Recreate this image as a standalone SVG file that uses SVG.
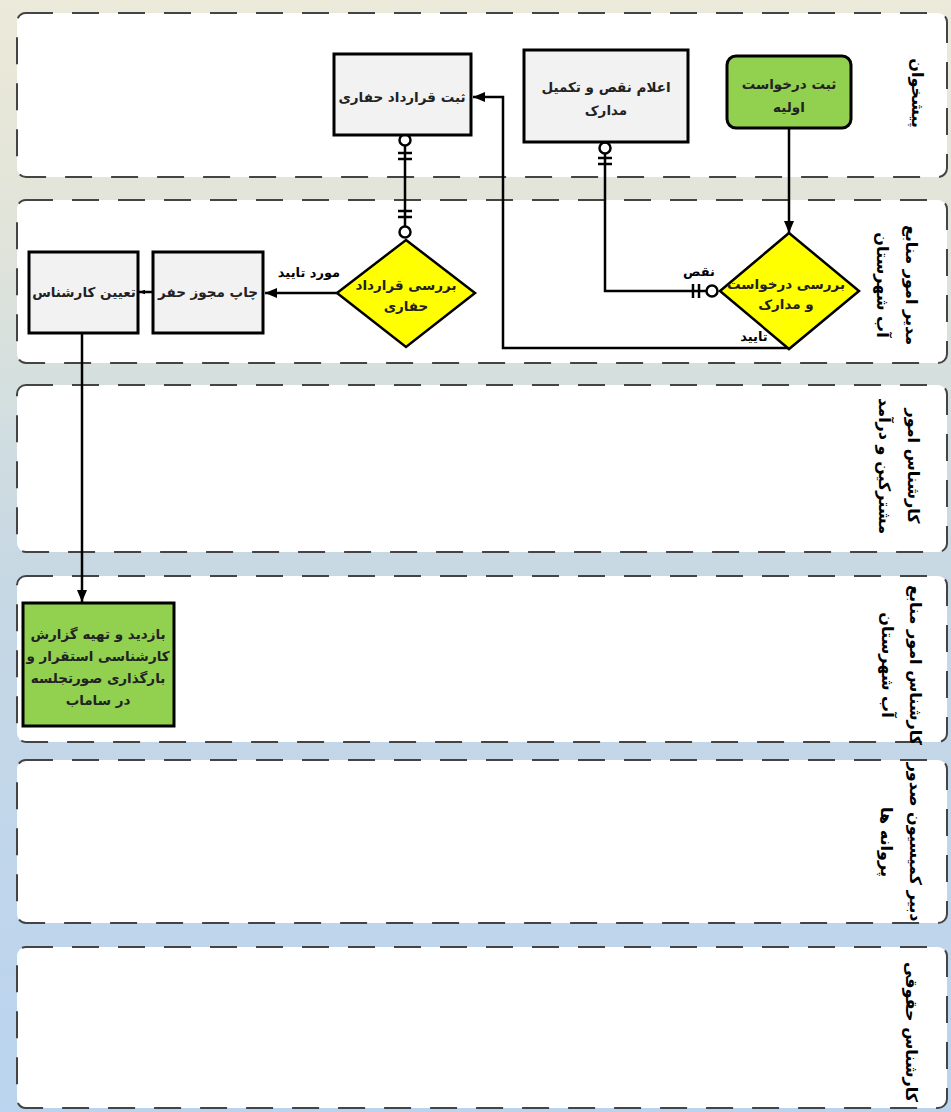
<svg xmlns="http://www.w3.org/2000/svg" width="951" height="1112" viewBox="0 0 951 1112">
<defs>
<linearGradient id="bg" x1="0" y1="0" x2="0" y2="1">
<stop offset="0" stop-color="#ecead9"/>
<stop offset="0.2" stop-color="#e1e4d9"/>
<stop offset="0.35" stop-color="#d4dfdf"/>
<stop offset="0.52" stop-color="#c7d8e4"/>
<stop offset="0.75" stop-color="#c1d6ea"/>
<stop offset="1" stop-color="#bad4ef"/>
</linearGradient>
<marker id="arr" viewBox="0 0 12 10" refX="12" refY="5" markerWidth="12" markerHeight="10" markerUnits="userSpaceOnUse" orient="auto">
<path d="M0,0 L12,5 L0,10 Z" fill="#000"/>
</marker>
<marker id="arrs" viewBox="0 0 8 6" refX="8" refY="3" markerWidth="6" markerHeight="5" markerUnits="userSpaceOnUse" orient="auto">
<path d="M0,0 L8,3 L0,6 Z" fill="#000"/>
</marker>
</defs>
<style>
.lane{fill:#fff;stroke:#444;stroke-width:2;stroke-dasharray:27 19}
.ll{font-family:"DejaVu Sans",sans-serif;font-weight:bold;font-size:16px;fill:#000;text-anchor:middle}
.box{fill:#f2f2f2;stroke:#000;stroke-width:3}
.grn{fill:#92d050;stroke:#000;stroke-width:3}
.dia{fill:#ffff00;stroke:#000;stroke-width:2.5}
.t{font-family:"DejaVu Sans",sans-serif;font-weight:bold;font-size:13.5px;fill:#222;text-anchor:middle}
.lb{font-family:"DejaVu Sans",sans-serif;font-weight:bold;font-size:13px;fill:#000;text-anchor:middle}
.c{fill:none;stroke:#000;stroke-width:2.5}
.er{fill:#fff;stroke:#000;stroke-width:2.5}
.bar{stroke:#000;stroke-width:2.5}
</style>
<rect x="0" y="0" width="951" height="1112" fill="url(#bg)"/>
<g id="lanes">
<g id="lane1"><rect class="lane" x="17" y="13" width="930" height="164" rx="9"/>
<text class="ll" transform="translate(912,93) rotate(90)">پیشخوان</text></g>
<g id="lane2"><rect class="lane" x="17" y="200" width="930" height="163" rx="9"/>
<text class="ll" transform="translate(906,285) rotate(90)"><tspan x="0" y="0">مدیر امور منابع</tspan><tspan x="0" y="29">آب شهرستان</tspan></text></g>
<g id="lane3"><rect class="lane" x="17" y="385" width="930" height="167" rx="9"/>
<text class="ll" transform="translate(908,466) rotate(90)"><tspan x="0" y="0">کارشناس امور</tspan><tspan x="0" y="29">مشترکین و درآمد</tspan></text></g>
<g id="lane4"><rect class="lane" x="17" y="576" width="930" height="166" rx="9"/>
<text class="ll" transform="translate(910,665) rotate(90)"><tspan x="0" y="0">کارشناس امور منابع</tspan><tspan x="0" y="28">آب شهرستان</tspan></text></g>
<g id="lane5"><rect class="lane" x="17" y="760" width="930" height="163" rx="9"/>
<text class="ll" transform="translate(910,842) rotate(90)"><tspan x="0" y="0">دبیر کمیسیون صدور</tspan><tspan x="0" y="29">پروانه ها</tspan></text></g>
<g id="lane6"><rect class="lane" x="17" y="947" width="930" height="161" rx="9"/>
<text class="ll" transform="translate(906,1032) rotate(90)">کارشناس حقوقی</text></g>
</g>
<g id="connectors">
<path class="c" d="M789,128 L789,233" marker-end="url(#arr)"/>
<path class="c" d="M707,291 L605,291 L605,153"/>
<path class="c" d="M789,348 L503,348 L503,97 L473,97" marker-end="url(#arr)"/>
<path class="c" d="M405,145 L405,227"/>
<path class="c" d="M337,293 L265,293" marker-end="url(#arr)"/>
<path class="c" d="M153,292 L139,292" stroke-width="1.5" marker-end="url(#arrs)"/>
<path class="c" d="M82,333 L82,602" marker-end="url(#arr)"/>
<g id="er-marks">
<line class="bar" x1="693" y1="284" x2="693" y2="298"/>
<line class="bar" x1="699" y1="284" x2="699" y2="298"/>
<circle class="er" cx="712" cy="291" r="5.5"/>
<circle class="er" cx="605" cy="148" r="5.5"/>
<line class="bar" x1="598" y1="158" x2="612" y2="158"/>
<line class="bar" x1="598" y1="164" x2="612" y2="164"/>
<circle class="er" cx="405" cy="140" r="5.5"/>
<line class="bar" x1="398" y1="153" x2="412" y2="153"/>
<line class="bar" x1="398" y1="159" x2="412" y2="159"/>
<line class="bar" x1="398" y1="211" x2="412" y2="211"/>
<line class="bar" x1="398" y1="217" x2="412" y2="217"/>
<circle class="er" cx="405" cy="232" r="5.5"/>
</g>
<text class="lb" x="699" y="276">نقص</text>
<text class="lb" x="754" y="341">تایید</text>
<text class="lb" x="309" y="277">مورد تایید</text>
</g>
<g id="n1"><rect class="grn" x="727" y="56" width="124" height="72" rx="9"/>
<text class="t" x="789" y="89">ثبت درخواست</text><text class="t" x="789" y="112">اولیه</text></g>
<g id="n2"><rect class="box" x="524" y="50" width="164" height="92"/>
<text class="t" x="606" y="92">اعلام نقص و تکمیل</text><text class="t" x="606" y="115">مدارک</text></g>
<g id="n3"><rect class="box" x="334" y="54" width="137" height="81"/>
<text class="t" x="402" y="102">ثبت قرارداد حفاری</text></g>
<g id="d1"><polygon class="dia" points="789,233 859,291 789,349 720,291"/>
<text class="t" x="786" y="289" font-weight="normal">بررسی درخواست</text><text class="t" x="786" y="309" font-weight="normal">و مدارک</text></g>
<g id="d2"><polygon class="dia" points="406,240 475,293 406,347 337,293"/>
<text class="t" x="406" y="290">بررسی قرارداد</text><text class="t" x="406" y="311">حفاری</text></g>
<g id="n4"><rect class="box" x="153" y="252" width="110" height="81"/>
<text class="t" x="208" y="297">چاپ مجوز حفر</text></g>
<g id="n5"><rect class="box" x="29" y="252" width="109" height="81"/>
<text class="t" x="84" y="297">تعیین کارشناس</text></g>
<g id="n6"><rect class="grn" x="23" y="603" width="151" height="123"/>
<text class="t" x="98" y="639">بازدید و تهیه گزارش</text>
<text class="t" x="98" y="661">کارشناسی استقرار و</text>
<text class="t" x="98" y="683">بارگذاری صورتجلسه</text>
<text class="t" x="98" y="705">در ساماب</text></g>
</svg>
